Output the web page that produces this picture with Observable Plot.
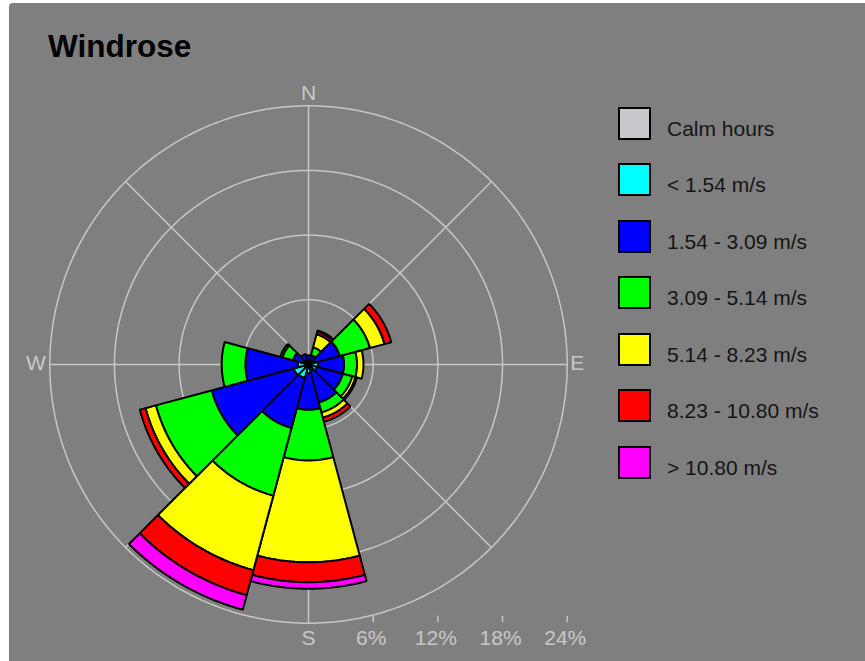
<!DOCTYPE html>
<html><head><meta charset="utf-8">
<script src="https://cdn.jsdelivr.net/npm/d3@7"></script>
<script src="https://cdn.jsdelivr.net/npm/@observablehq/plot@0.6"></script>
<style>
html,body{margin:0;padding:0;background:#fff;width:865px;height:661px;overflow:hidden;position:relative;}
#panel{position:absolute;left:9px;top:3px;right:0;bottom:0;background:#807f80;border-top-left-radius:4px;}
#chart{position:absolute;left:0;top:0;}
#title{position:absolute;left:48px;top:31px;font:bold 31.5px "Liberation Sans",Arial,sans-serif;line-height:31px;color:#000;white-space:nowrap;}
.lg{position:absolute;left:618px;width:29px;height:29px;border:2px solid #000;}
.lt{position:absolute;left:667px;font:21px "Liberation Sans",Arial,sans-serif;color:#141414;line-height:21px;white-space:nowrap;}
</style></head><body>
<div id="panel"></div>
<div id="chart"></div>
<div id="title">Windrose</div>
<div id="legend"></div>
<script>
// ---- data ----
const angles = [0, 30, 60, 90, 120, 150, 180, 210, 240, 270, 300, 330];
const speedClasses = ["Calm hours", "< 1.54 m/s", "1.54 - 3.09 m/s", "3.09 - 5.14 m/s", "5.14 - 8.23 m/s", "8.23 - 10.80 m/s", "> 10.80 m/s"];
const classColors = ["#c8c8cc", "#00ffff", "#0000ff", "#00ff00", "#ffff00", "#ff0000", "#ff00ff"];
// frequencies (%) per direction
const below154  = [0.3, 0.4, 0.6, 0.9, 0.8, 0.6, 0.8, 1.3, 1.4, 1.0, 0.6, 0.4];
const s154to309 = [0.55, 0.5, 2.4, 2.4, 2.5, 3.05, 3.4, 4.8, 7.9, 4.85, 0.9, 0.6];
const s309to514 = [0, 0.75, 2.9, 1.2, 0.9, 0.95, 4.7, 6.5, 5.35, 2.2, 1.0, 0];
const s514to823 = [0, 1.25, 1.4, 0.6, 0.3, 0.5, 9.45, 7.15, 1.0, 0, 0.2, 0];
const s823to1080 = [0, 0.25, 0.65, 0, 0.15, 0.4, 1.85, 2.4, 0.55, 0, 0, 0];
const above1080 = [0, 0.12, 0, 0, 0, 0, 0.6, 1.4, 0, 0, 0, 0];
const ringValues = [6, 12, 18, 24];
const ringLabels = ["6%", "12%", "18%", "24%"];
const compass = [{label: "N", angle: 0}, {label: "E", angle: 90}, {label: "S", angle: 180}, {label: "W", angle: 270}];

// ---- layout ----
const W = 865, H = 661, cx = 308, cy = 364, k = 10.78; // px per percent
const R = d3.max(ringValues);
const gridColor = "#c6c6c6";
const labelColor = "#c8c8c8";
const rad = Math.PI / 180;
const half = 360 / angles.length / 2;
const pt = (r, t) => [r * Math.sin(t * rad), r * Math.cos(t * rad)];

function sector(a, r0, r1, cls) {
  const pts = [];
  for (let t = a - half; t <= a + half + 1e-9; t += 0.5) pts.push(pt(r1, t));
  if (r0 > 0) for (let t = a + half; t >= a - half - 1e-9; t -= 0.5) pts.push(pt(r0, t));
  else pts.push([0, 0]);
  pts.push(pts[0]);
  return {type: "Polygon", coordinates: [pts], cls};
}

const series = [below154, s154to309, s309to514, s514to823, s823to1080, above1080];
const sectors = [];
angles.forEach((a, i) => {
  let r0 = 0;
  series.forEach((vals, j) => {
    const v = vals[i];
    if (v > 0) sectors.push(sector(a, r0, r0 + v, speedClasses[j + 1]));
    r0 += v;
  });
});

const circles = ringValues.map(r => ({type: "LineString", coordinates: d3.range(0, 361, 1).map(t => pt(r, t))}));
const spokes = [0, 45, 90, 135].map(t => ({type: "LineString", coordinates: [pt(R, t), pt(R, t + 180)]}));
const tickY0 = -(616 - cy) / k, tickY1 = -(621 - cy) / k;
const ticks = ringValues.map(r => ({type: "LineString", coordinates: [[r, tickY0], [r, tickY1]]}));
const compassPts = compass.map(d => ({label: d.label, x: pt(R, d.angle)[0], y: pt(R, d.angle)[1]}));
const ringLabelPts = ringValues.map((r, i) => ({label: ringLabels[i], x: r, y: -R}));

const font = "'Liberation Sans', Arial, sans-serif";
const plot = Plot.plot({
  width: W, height: H, margin: 0,
  projection: {type: "reflect-y", domain: {type: "MultiPoint", coordinates: [[-cx / k, -(H - cy) / k], [(W - cx) / k, cy / k]]}},
  color: {domain: speedClasses, range: classColors},
  style: {background: "transparent", fontFamily: font, overflow: "visible"},
  marks: [
    Plot.geo(circles, {stroke: gridColor, strokeWidth: 1.5, fill: "none"}),
    Plot.geo(spokes, {stroke: gridColor, strokeWidth: 1.5}),
    Plot.geo(ticks, {stroke: gridColor, strokeWidth: 1.5}),
    Plot.geo(sectors, {fill: "cls", stroke: "black", strokeWidth: 2, strokeLinejoin: "miter"}),
    Plot.text(compassPts.filter(d => d.label === "N"), {x: "x", y: "y", text: "label", dy: -13, fontSize: 21, fill: labelColor}),
    Plot.text(compassPts.filter(d => d.label === "S"), {x: "x", y: "y", text: "label", dy: 15, fontSize: 21, fill: labelColor}),
    Plot.text(compassPts.filter(d => d.label === "W"), {x: "x", y: "y", text: "label", dx: -4, dy: -1, textAnchor: "end", fontSize: 21, fill: labelColor}),
    Plot.text(compassPts.filter(d => d.label === "E"), {x: "x", y: "y", text: "label", dx: 3, dy: -1, textAnchor: "start", fontSize: 21, fill: labelColor}),
    Plot.text(ringLabelPts, {x: "x", y: "y", text: "label", dx: -2, dy: 15, fontSize: 21, fill: labelColor})
  ]
});
document.getElementById("chart").appendChild(plot);

// ---- legend ----
const legend = document.getElementById("legend");
speedClasses.forEach((c, i) => {
  const yc = 123.2 + i * 56.55;
  const box = document.createElement("div");
  box.className = "lg";
  box.style.top = (yc - 16.5) + "px";
  box.style.background = classColors[i];
  legend.appendChild(box);
  const t = document.createElement("div");
  t.className = "lt";
  t.style.top = (yc - 5.5) + "px";
  t.textContent = c;
  legend.appendChild(t);
});
</script>
</body></html>
